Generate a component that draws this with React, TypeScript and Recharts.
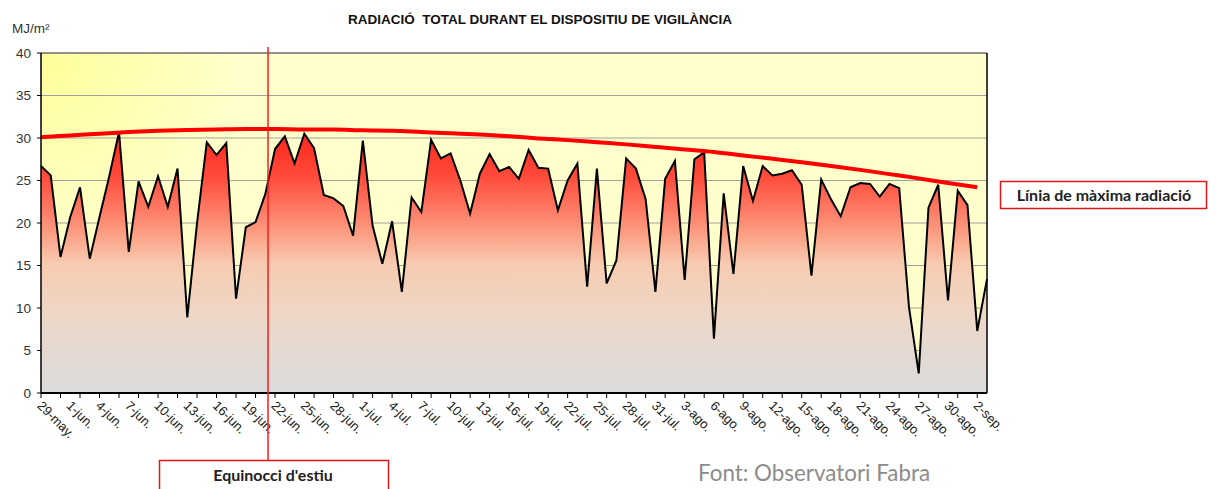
import React from 'react';
import { ComposedChart, Area, Line, XAxis, YAxis, CartesianGrid, ReferenceLine } from 'recharts';

// month name, first day, last day shown
const months: [string, number, number][] = [
  ['may.', 29, 31],
  ['jun.', 1, 30],
  ['jul.', 1, 31],
  ['ago.', 1, 31],
  ['sep.', 1, 3],
];

const days: string[] = [];
months.forEach(([m, a, b]) => {
  for (let d = a; d <= b; d++) days.push(`${d}-${m}`);
});

// daily total radiation, MJ/m2 (29-may .. 3-sep)
const radiation = [
  26.7, 25.6, 16.0, 20.7, 24.2, 15.8, 20.7, 25.5, 30.7, 16.6, 24.9, 21.9, 25.5, 21.9, 26.4, 8.9, 20.0, 29.5, 28.0, 29.4, 11.1, 19.5, 20.1, 23.4, 28.7,
  30.2, 27.0, 30.5, 28.8, 23.3, 22.9, 22.0, 18.5, 29.7, 19.7, 15.2, 20.2, 11.9, 23.0, 21.3, 29.8, 27.6, 28.2, 25.0, 21.1, 25.8, 28.1, 26.1, 26.6, 25.2,
  28.6, 26.5, 26.4, 21.5, 25.0, 27.0, 12.5, 26.4, 12.9, 15.6, 27.6, 26.4, 22.8, 11.9, 25.2, 27.3, 13.3, 27.5, 28.3, 6.4, 23.5, 14.0, 26.7, 22.6,
  26.7, 25.6, 25.8, 26.2, 24.5, 13.8, 25.1, 22.8, 20.8, 24.2, 24.7, 24.6, 23.1, 24.6, 24.1, 10.1, 2.3, 21.8, 24.5, 10.9, 23.8, 22.1, 7.3, 13.4,
];

// maximum radiation line, read every third day (29-may, 1-jun, ... 2-sep)
const maxRadiation = [
  30.1, 30.3, 30.5, 30.7, 30.85, 30.95, 31.0, 31.05, 31.05, 31.0, 31.0, 30.9, 30.85, 30.7, 30.55, 30.4, 30.2,
  29.95, 29.75, 29.5, 29.25, 28.95, 28.65, 28.35, 27.95, 27.55, 27.15, 26.7, 26.25, 25.75, 25.25, 24.7, 24.2,
];

const yTicks = [0, 5, 10, 15, 20, 25, 30, 35, 40];

const data = days.map((day, i) => ({
  day,
  rad: radiation[i],
  max: i % 3 === 0 ? maxRadiation[i / 3] ?? null : null,
}));

const arial = '"Liberation Sans", Arial, sans-serif';
const calibri = 'Lato, "Open Sans", sans-serif';

const XTick = (props: any) => {
  const { x, y, index, payload } = props;
  const ty = y + 11;
  const tx = x - 2;
  return (
    <g>
      {index % 2 === 0 && <line x1={x} y1={y} x2={x} y2={y + 5} stroke="#000" strokeWidth={1} />}
      {index % 3 === 0 && (
        <text
          x={tx}
          y={ty}
          transform={`rotate(45 ${tx} ${ty})`}
          textAnchor="start"
          dominantBaseline="middle"
          fontSize={13}
          fontFamily={arial}
          fill="#222"
        >
          {payload.value}
        </text>
      )}
    </g>
  );
};

export default function App() {
  return (
    <div style={{ position: 'relative', width: 1216, height: 489, background: '#fff' }}>
      <style>{'body{margin:0}'}</style>
      <ComposedChart
        width={1216}
        height={489}
        data={data}
        margin={{ top: 53, right: 229, left: 0, bottom: 0 }}
      >
        <defs>
          <radialGradient id="bgFill" gradientUnits="userSpaceOnUse" cx={41} cy={53} r={200}>
            <stop offset="0" stopColor="#ffff9a" />
            <stop offset="1" stopColor="#ffffcc" />
          </radialGradient>
          <linearGradient id="radFill" gradientUnits="userSpaceOnUse" x1={0} y1={53} x2={0} y2={393}>
            <stop offset="0" stopColor="#ff1008" />
            <stop offset="0.25" stopColor="#ff2a1e" />
            <stop offset="0.36" stopColor="#ff4a3a" />
            <stop offset="0.46" stopColor="#fd7a64" />
            <stop offset="0.55" stopColor="#faa88c" />
            <stop offset="0.62" stopColor="#f7cbb0" />
            <stop offset="0.75" stopColor="#efd6c4" />
            <stop offset="0.88" stopColor="#e4d9d2" />
            <stop offset="1" stopColor="#dcdcdc" />
          </linearGradient>
        </defs>
        <CartesianGrid vertical={false} stroke="#a0a0a0" fill="url(#bgFill)" fillOpacity={1} />
        <XAxis
          dataKey="day"
          scale="point"
          padding={{ left: 0, right: 0 }}
          interval={0}
          height={96}
          tickLine={false}
          tickSize={0}
          tickMargin={0}
          tick={<XTick />}
          axisLine={{ stroke: '#000', strokeWidth: 2 }}
        />
        <YAxis
          domain={[0, 40]}
          ticks={yTicks}
          width={41}
          tickSize={4}
          tickMargin={6}
          tickLine={{ stroke: '#000' }}
          axisLine={{ stroke: '#000', strokeWidth: 1.5 }}
          tick={{ fontSize: 13.5, fill: '#333', fontFamily: arial }}
        />
        <ReferenceLine y={40} stroke="#555" strokeWidth={1} />
        <ReferenceLine x="3-sep." stroke="#000" strokeWidth={1.5} />
        <Area
          type="linear"
          dataKey="rad"
          stroke="#000"
          strokeWidth={2}
          fill="url(#radFill)"
          fillOpacity={1}
          dot={false}
          activeDot={false}
          isAnimationActive={false}
        />
        <Line
          type="monotone"
          dataKey="max"
          stroke="#ff0000"
          strokeWidth={4}
          dot={false}
          activeDot={false}
          connectNulls
          isAnimationActive={false}
        />
      </ComposedChart>
      <svg
        width={1216}
        height={489}
        style={{ position: 'absolute', left: 0, top: 0, pointerEvents: 'none' }}
      >
        <text
          x={540}
          y={24}
          textAnchor="middle"
          fontFamily={arial}
          fontWeight="bold"
          fontSize={13.5}
          fill="#111"
          style={{ whiteSpace: 'pre' }}
        >
          {'RADIACIÓ  TOTAL DURANT EL DISPOSITIU DE VIGILÀNCIA'}
        </text>
        <text x={12} y={33} fontFamily={arial} fontSize={13.5} fill="#333">
          MJ/m²
        </text>
        <line x1={268} y1={47} x2={268} y2={460} stroke="#ff1a1a" strokeWidth={1.5} />
        <rect x={1000.5} y={181.5} width={206} height={27} fill="#fff" stroke="#e3161c" strokeWidth={1.5} />
        <text x={1104} y={201} textAnchor="middle" fontFamily={calibri} fontWeight="bold" fontSize={16} fill="#222">
          Línia de màxima radiació
        </text>
        <rect x={159.5} y={460.5} width={229} height={40} fill="#fff" stroke="#e3161c" strokeWidth={1.5} />
        <text x={273} y={481} textAnchor="middle" fontFamily={calibri} fontWeight="bold" fontSize={16} fill="#222">
          Equinocci d'estiu
        </text>
        <text x={698} y={481} fontFamily={calibri} fontSize={22.4} fill="#8c8c8c">
          Font: Observatori Fabra
        </text>
      </svg>
    </div>
  );
}
